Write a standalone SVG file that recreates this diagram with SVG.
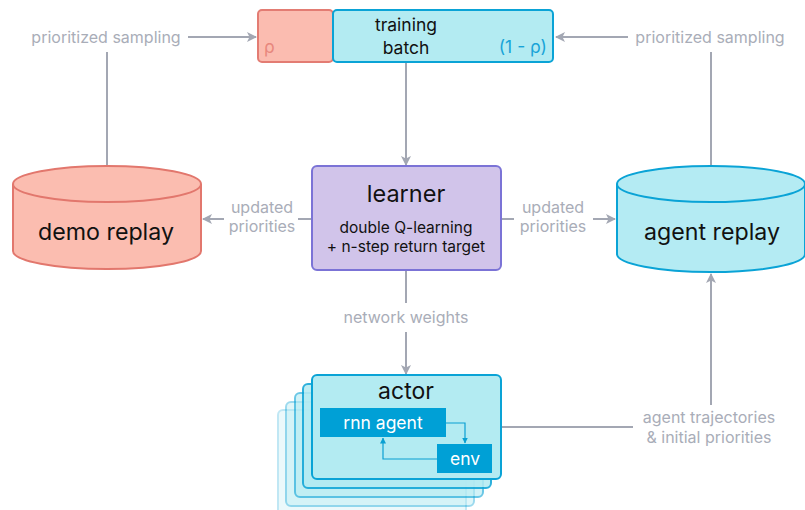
<svg xmlns="http://www.w3.org/2000/svg" width="805" height="510" viewBox="0 0 805 510">
<defs>
<marker id="ah" markerWidth="10" markerHeight="10" refX="9" refY="5" orient="auto" markerUnits="userSpaceOnUse">
<path d="M0,0 L10,5 L0,10 L2.5,5 Z" fill="#a3a7b3"/>
</marker>
<marker id="ahb" markerWidth="6" markerHeight="6" refX="5.5" refY="3" orient="auto" markerUnits="userSpaceOnUse">
<path d="M0,0 L6,3 L0,6 Z" fill="#0aa0d2"/>
</marker>
</defs>
<style>
text{font-family:"Inter","Roboto","Noto Sans",sans-serif}
.lbl{font-size:16px;fill:#a9adb8;text-anchor:middle}
.con{stroke:#a3a7b3;stroke-width:2;fill:none}
.ttl{fill:#111;text-anchor:middle}
.stack{fill:#b3ebf2;stroke:#0aa3d6;stroke-width:2}
</style>
<rect width="805" height="510" fill="#fff"/>

<g id="connectors">
<line class="con" x1="188" y1="37" x2="256" y2="37" marker-end="url(#ah)"/>
<line class="con" x1="107" y1="166" x2="107" y2="52"/>
<line class="con" x1="628" y1="37" x2="556" y2="37" marker-end="url(#ah)"/>
<line class="con" x1="711" y1="167" x2="711" y2="52"/>
<line class="con" x1="406" y1="62" x2="406" y2="165" marker-end="url(#ah)"/>
<line class="con" x1="312" y1="219" x2="298" y2="219"/>
<line class="con" x1="224" y1="219" x2="203" y2="219" marker-end="url(#ah)"/>
<line class="con" x1="500" y1="219" x2="514" y2="219"/>
<line class="con" x1="593" y1="219" x2="615" y2="219" marker-end="url(#ah)"/>
<line class="con" x1="406" y1="271" x2="406" y2="303"/>
<line class="con" x1="406" y1="332" x2="406" y2="374" marker-end="url(#ah)"/>
<line class="con" x1="501" y1="427" x2="633" y2="427"/>
<line class="con" x1="711" y1="405" x2="711" y2="274" marker-end="url(#ah)"/>
<text class="lbl" x="106" y="43">prioritized sampling</text>
<text class="lbl" x="710" y="43">prioritized sampling</text>
<text class="lbl" x="262" y="213">updated</text>
<text class="lbl" x="262" y="232">priorities</text>
<text class="lbl" x="553" y="213">updated</text>
<text class="lbl" x="553" y="232">priorities</text>
<text class="lbl" x="406" y="323">network weights</text>
<text class="lbl" x="709" y="423">agent trajectories</text>
<text class="lbl" x="709" y="443">&amp; initial priorities</text>
</g>

<g id="batch">
<rect x="258" y="10" width="75" height="52" rx="4" fill="#fbbcb0" stroke="#e37c73" stroke-width="2"/>
<rect x="333" y="10" width="220" height="52" rx="4" fill="#b3ebf2" stroke="#0aa3d6" stroke-width="2"/>
<text x="264" y="53" font-size="17.5" fill="#e8877d">ρ</text>
<text class="ttl" x="406" y="31" font-size="17.5">training</text>
<text class="ttl" x="406" y="54" font-size="17.5">batch</text>
<text x="547" y="53" font-size="17.5" fill="#18a4d8" text-anchor="end">(1 - ρ)</text>
</g>

<g id="demo-replay">
<path d="M13,184 L13,251 A94,18 0 0 0 201,251 L201,184 A94,18 0 0 0 13,184 Z" fill="#fbbdb0" stroke="#e2776d" stroke-width="2"/>
<path d="M13,184 A94,18 0 0 0 201,184" fill="none" stroke="#e2776d" stroke-width="2"/>
<text class="ttl" x="106" y="240" font-size="23.2">demo replay</text>
</g>

<g id="agent-replay">
<path d="M617,184 L617,254 A94,18 0 0 0 805,254 L805,184 A94,18 0 0 0 617,184 Z" fill="#b4ebf3" stroke="#0aa3d6" stroke-width="2"/>
<path d="M617,184 A94,18 0 0 0 805,184" fill="none" stroke="#0aa3d6" stroke-width="2"/>
<text class="ttl" x="712" y="240" font-size="23.2">agent replay</text>
</g>

<g id="learner">
<rect x="312" y="166" width="189" height="104" rx="5" fill="#d1c4ea" stroke="#7b73d6" stroke-width="2"/>
<text class="ttl" x="406" y="202" font-size="23.5">learner</text>
<text class="ttl" x="406" y="233" font-size="15.5">double Q-learning</text>
<text class="ttl" x="406" y="252" font-size="15.5">+ n-step return target</text>
</g>

<g id="actor">
<rect class="stack" x="278" y="410" width="188" height="104" rx="5" opacity="0.25"/>
<rect class="stack" x="286" y="402" width="188" height="104" rx="5" opacity="0.4"/>
<rect class="stack" x="295" y="393" width="188" height="104" rx="5" opacity="0.6"/>
<rect class="stack" x="303" y="384" width="188" height="104" rx="5" opacity="0.85"/>
<rect class="stack" x="312" y="375" width="189" height="104" rx="5"/>
<text class="ttl" x="406" y="399" font-size="23">actor</text>
<rect x="320" y="408" width="126" height="29" fill="#00a0d6"/>
<text x="383" y="429" font-size="17.5" fill="#fff" text-anchor="middle">rnn agent</text>
<rect x="437" y="444" width="55" height="29" fill="#00a0d6"/>
<text x="465" y="465" font-size="17.5" fill="#fff" text-anchor="middle">env</text>
<path d="M446,423 L465,423 L465,443" fill="none" stroke="#0aa0d2" stroke-width="1.2" marker-end="url(#ahb)"/>
<path d="M437,459 L383,459 L383,438" fill="none" stroke="#0aa0d2" stroke-width="1.2" marker-end="url(#ahb)"/>
</g>
</svg>
